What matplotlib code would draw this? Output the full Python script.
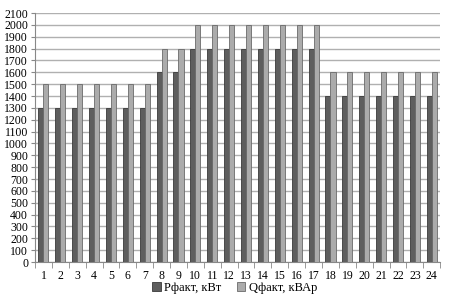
import matplotlib
matplotlib.use("Agg")
import matplotlib.pyplot as plt
import numpy as np

hours = [str(i) for i in range(1, 25)]
p_fact = [1300]*7 + [1600, 1600] + [1800]*8 + [1400]*7
q_fact = [1500]*7 + [1800, 1800] + [2000]*8 + [1600]*7

plt.rcParams['font.family'] = ['Liberation Serif', 'DejaVu Serif']

fig = plt.figure(figsize=(4.6, 3.04), dpi=100)
ax = fig.add_axes([0.076, 0.138, 0.881, 0.819])

x = np.arange(len(hours))
w = 0.3
ax.bar(x - w/2, p_fact, w, color='#5e5e5e', edgecolor='#3a3a3a', linewidth=0.6,
       label='Pфакт, кВт', zorder=3)
ax.bar(x + w/2, q_fact, w, color='#ababab', edgecolor='#6a6a6a', linewidth=0.6,
       label='Qфакт, кВАр', zorder=3)

ax.set_xlim(-0.5, len(hours) - 0.5)
ax.set_ylim(0, 2100)
ax.set_yticks(range(0, 2101, 100))
ax.set_xticks(x)
ax.set_xticklabels(hours)
ax.set_xticks(np.arange(-0.5, len(hours), 1), minor=True)
ax.tick_params(axis='x', which='major', length=0, labelsize=8.5, pad=6)
ax.tick_params(axis='x', which='minor', length=4, color='#888888')
ax.tick_params(axis='y', length=3, color='#888888', labelsize=8.5, pad=2)
ax.yaxis.grid(True, color='#b0b0b0', linewidth=1.0, zorder=0)
for s in ['top', 'right']:
    ax.spines[s].set_visible(False)
for s in ['left', 'bottom']:
    ax.spines[s].set_color('#888888')

fig.legend(loc='center', bbox_to_anchor=(0.51, 0.052), ncol=2, frameon=False,
           fontsize=9, handlelength=0.7, handleheight=0.7, columnspacing=1.2,
           handletextpad=0.3)

fig.savefig('out.png', dpi=100)
